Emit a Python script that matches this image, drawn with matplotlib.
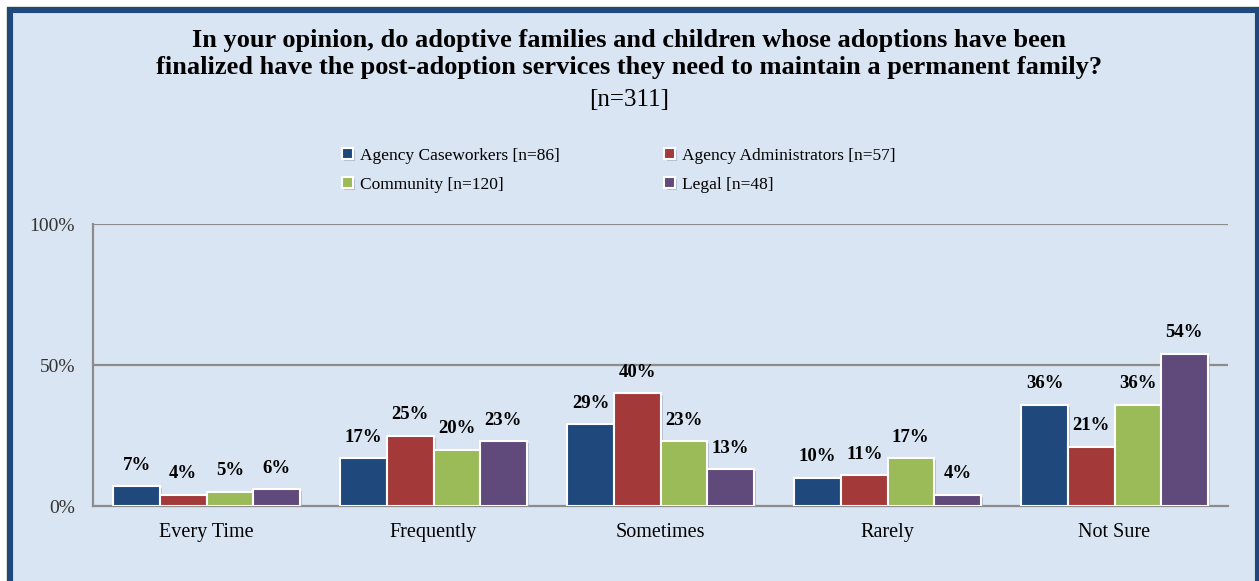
import matplotlib.pyplot as plt
from matplotlib.patches import Rectangle
import matplotlib.patheffects as pe
import numpy as np

categories = ["Every Time", "Frequently", "Sometimes", "Rarely", "Not Sure"]
series_names = [
    "Agency Caseworkers [n=86]",
    "Agency Administrators [n=57]",
    "Community [n=120]",
    "Legal [n=48]",
]
caseworkers = [7, 17, 29, 10, 36]
administrators = [4, 25, 40, 11, 21]
community = [5, 20, 23, 17, 36]
legal = [6, 23, 13, 4, 54]
yticks = [0, 50, 100]
ytick_labels = ["0%", "50%", "100%"]

colors = ["#1f497d", "#a33a39", "#9bbb59", "#604a7b"]
bg = "#d9e5f3"
navy = "#1f497d"

plt.rcParams["font.family"] = ["Liberation Serif", "DejaVu Serif"]

fig = plt.figure(figsize=(12.59, 5.81), dpi=100)
fig.patch.set_facecolor("white")

# panel background and border (olive hairline outside, thick navy frame)
fig.patches.append(Rectangle((0.0052, -0.05), 1.0, 1.038, transform=fig.transFigure,
                             facecolor=bg, edgecolor="#76923c", linewidth=1.0, zorder=-10))
fig.patches.append(Rectangle((0.0080, -0.05), 0.9912, 1.032, transform=fig.transFigure,
                             facecolor="none", edgecolor=navy, linewidth=4.4, zorder=-9))

ax = fig.add_axes([0.0739, 0.129, 0.9015, 0.4854])
ax.set_facecolor("none")

x = np.arange(len(categories))
width = 0.205
all_series = [caseworkers, administrators, community, legal]
handles = []
for i, (vals, name, col) in enumerate(zip(all_series, series_names, colors)):
    pos = x + (i - 1.5) * width
    bars = ax.bar(pos, vals, width, color=col, edgecolor="white", linewidth=1.5,
                  label=name, zorder=3,
                  path_effects=[pe.SimplePatchShadow(offset=(1.5, -1.5), shadow_rgbFace="#9aa7b8", alpha=0.6), pe.Normal()])
    handles.append(bars)
    for p, v in zip(pos, vals):
        ax.annotate(f"{v}%", (p, v), xytext=(0, 9), textcoords="offset points",
                    ha="center", va="bottom", fontsize=13.5, fontweight="bold", zorder=4)

ax.set_xlim(-0.5, 4.5)
ax.set_ylim(0, 100)
ax.set_yticks(yticks)
ax.set_yticklabels(ytick_labels, fontsize=14, color="#333333")
ax.set_xticks(x)
ax.set_xticklabels(categories, fontsize=14.5)
ax.tick_params(axis="y", length=0, pad=13)
ax.tick_params(axis="x", length=0, pad=12)
for y in [50, 100]:
    ax.axhline(y, color="#8c8c8c", linewidth=1.6, zorder=1)
for s in ["top", "right"]:
    ax.spines[s].set_visible(False)
for s in ["left", "bottom"]:
    ax.spines[s].set_color("#8c8c8c")
    ax.spines[s].set_linewidth(1.6)

fig.text(0.5, 0.907, "In your opinion, do adoptive families and children whose adoptions have been\n"
         "finalized have the post-adoption services they need to maintain a permanent family?",
         ha="center", va="center", fontsize=19, fontweight="bold", linespacing=1.2)
fig.text(0.5, 0.828, "[n=311]", ha="center", va="center", fontsize=18)

# row-wise legend order with ncol=2 (column-major fill)
order = [0, 2, 1, 3]
fig.legend([handles[i] for i in order], [series_names[i] for i in order],
           loc="center left", bbox_to_anchor=(0.2595, 0.707), ncol=2, frameon=False,
           fontsize=12.5, handlelength=0.6, handleheight=0.6, handletextpad=0.4,
           columnspacing=6.05, labelspacing=0.75)

fig.savefig("out.png", dpi=100, facecolor=fig.get_facecolor())
